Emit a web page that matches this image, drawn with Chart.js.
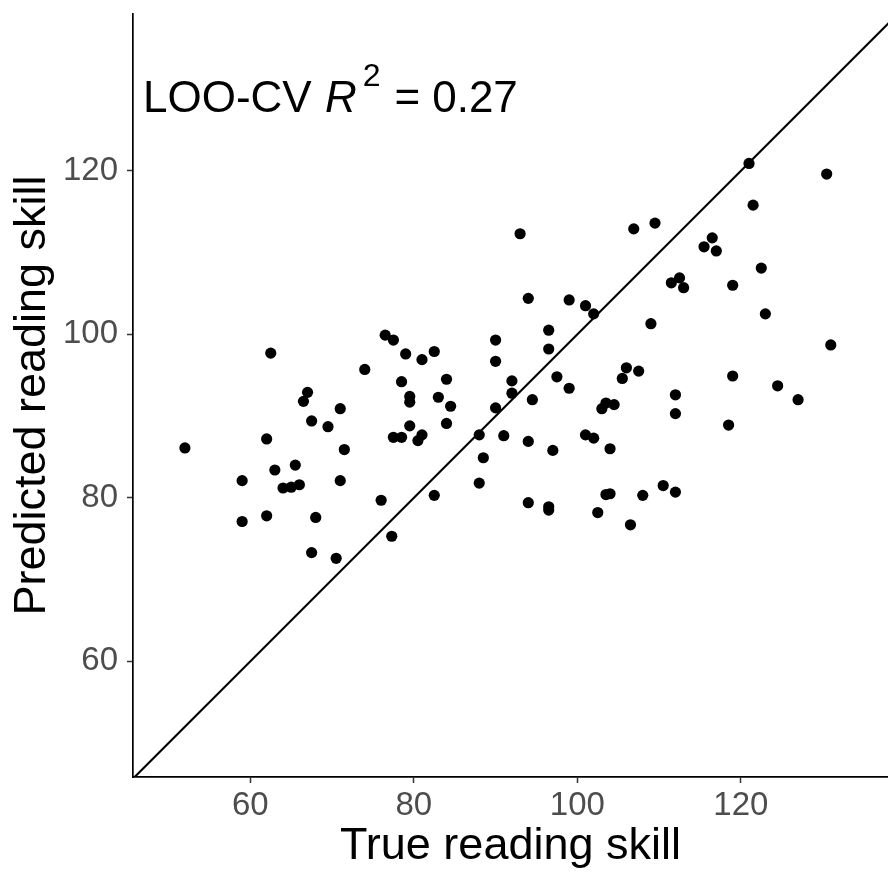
<!DOCTYPE html>
<html>
<head>
<meta charset="utf-8">
<title>Predicted vs true reading skill</title>
<script src="https://cdn.jsdelivr.net/npm/chart.js@4.4.1/dist/chart.umd.min.js"></script>
<style>
  html, body { margin: 0; padding: 0; background: #fff; }
  #wrap { width: 888px; height: 875px; }
</style>
</head>
<body>
<div id="wrap"><canvas id="skillChart" width="888" height="875"></canvas></div>
<script>
// true score and leave-one-out prediction, one entry per subject
const trueSkill = [
  62.5, 76.5, 74.0, 67.0, 66.5, 71.0, 67.5, 69.5, 62.0, 52.0,
  71.5, 65.5, 63.0, 59.0, 71.0, 64.0, 65.0, 66.0, 76.0, 59.0,
  62.0, 68.0, 77.3, 67.5, 70.5, 93.0, 94.0, 99.0, 101.0, 102.0,
  106.9, 77.5, 79.0, 81.0, 82.5, 90.0, 96.5, 96.5, 90.0, 78.5,
  84.0, 92.0, 97.5, 99.0, 106.0, 105.5, 107.5, 79.5, 79.5, 83.0,
  84.5, 92.0, 90.0, 94.5, 103.5, 103.0, 104.5, 79.5, 84.0, 77.5,
  78.5, 80.5, 81.0, 88.0, 91.0, 94.0, 97.0, 101.0, 102.0, 104.0,
  88.5, 88.0, 82.5, 94.0, 96.5, 96.5, 103.5, 104.0, 102.5, 106.5,
  121.0, 130.5, 121.5, 109.5, 116.5, 115.5, 117.0, 122.5, 111.5, 112.5,
  113.0, 119.0, 123.0, 109.0, 131.0, 119.0, 124.5, 112.0, 127.0, 112.0,
  118.5, 108.0, 110.5, 112.0
];
const predictedSkill = [
  97.7, 99.9, 95.7, 92.9, 91.8, 90.9, 89.4, 88.7, 87.2, 86.1,
  85.9, 84.0, 83.4, 82.1, 82.1, 81.2, 81.3, 81.6, 79.7, 77.1,
  77.8, 77.6, 75.3, 73.3, 72.6, 112.3, 104.4, 104.2, 103.5, 102.5,
  112.9, 99.3, 97.6, 96.9, 97.9, 99.3, 100.5, 98.2, 96.7, 94.2,
  94.5, 94.3, 94.8, 93.4, 95.9, 94.6, 95.5, 92.4, 91.7, 92.3,
  91.2, 92.8, 91.0, 92.0, 91.6, 90.9, 91.4, 88.8, 89.1, 87.4,
  87.4, 87.0, 87.7, 87.7, 87.6, 86.9, 85.8, 87.7, 87.3, 86.0,
  84.9, 81.8, 80.3, 79.4, 78.9, 78.5, 80.4, 80.5, 78.2, 76.7,
  120.9, 119.6, 115.8, 113.6, 111.8, 110.7, 110.2, 108.1, 106.3, 106.9,
  105.7, 106.0, 102.5, 101.3, 98.7, 94.9, 93.7, 92.6, 92.0, 90.3,
  88.9, 80.3, 81.5, 80.7
];
const xTicks = [60, 80, 100, 120];
const yTicks = [60, 80, 100, 120];
const xLimits = [45.65, 138.0];
const yLimits = [45.85, 139.18];
const cvR2 = '0.27';

// identity line y = x, long enough to cross the whole panel (clipped)
const identityEnds = [40, 150];

const FONT = '"Liberation Sans", Arial, Helvetica, sans-serif';

const points = trueSkill.map((v, i) => ({ x: v, y: predictedSkill[i] }));
const identity = identityEnds.map(v => ({ x: v, y: v }));

// "LOO-CV R^2 = 0.27" in the top-left corner of the panel
const r2Note = {
  id: 'r2Note',
  afterDatasetsDraw(chart) {
    const ctx = chart.ctx;
    const area = chart.chartArea;
    const base = area.top + 98;
    let x = area.left + 10;
    ctx.save();
    ctx.fillStyle = '#000';
    ctx.textBaseline = 'alphabetic';
    ctx.textAlign = 'left';

    ctx.font = '44px ' + FONT;
    ctx.fillText('LOO-CV', x, base);
    x += ctx.measureText('LOO-CV ').width + 1;

    ctx.font = 'italic 44px ' + FONT;
    ctx.fillText('R', x, base);
    x += ctx.measureText('R').width + 6;

    ctx.font = '32px ' + FONT;
    ctx.fillText('2', x, base - 26);
    x += ctx.measureText('2').width + 14;

    ctx.font = '44px ' + FONT;
    ctx.fillText('=', x, base);
    x += ctx.measureText('=').width + 12;
    ctx.fillText(cvR2, x, base);
    ctx.restore();
  }
};

function fixedTicks(values) {
  return scale => { scale.ticks = values.map(v => ({ value: v })); };
}

const ctx = document.getElementById('skillChart').getContext('2d');
new Chart(ctx, {
  type: 'scatter',
  data: {
    datasets: [
      {
        label: 'subjects',
        data: points,
        pointRadius: 5.6,
        pointBackgroundColor: '#000',
        pointBorderWidth: 0,
        showLine: false
      },
      {
        type: 'line',
        label: 'y = x',
        data: identity,
        borderColor: '#000',
        borderWidth: 2.1,
        pointRadius: 0,
        fill: false
      }
    ]
  },
  options: {
    responsive: false,
    animation: false,
    devicePixelRatio: 1,
    events: [],
    layout: {
      autoPadding: false,
      padding: { top: 14, right: 0, bottom: 0, left: 0 }
    },
    plugins: {
      legend: { display: false },
      tooltip: { enabled: false }
    },
    scales: {
      x: {
        type: 'linear',
        min: xLimits[0],
        max: xLimits[1],
        afterBuildTicks: fixedTicks(xTicks),
        afterFit: scale => {
          scale.height = 98;
          scale.paddingLeft = 0;
          scale.paddingRight = 0;
        },
        border: { display: true, color: '#000', width: 1.7 },
        grid: {
          drawOnChartArea: false,
          drawTicks: true,
          tickLength: 6,
          tickColor: '#333',
          tickWidth: 1.5
        },
        ticks: {
          color: '#4d4d4d',
          padding: 3,
          font: { family: FONT, size: 33 }
        },
        title: {
          display: true,
          text: 'True reading skill',
          color: '#000',
          padding: { top: 0, bottom: 1 },
          font: { family: FONT, size: 45 }
        }
      },
      y: {
        type: 'linear',
        min: yLimits[0],
        max: yLimits[1],
        afterBuildTicks: fixedTicks(yTicks),
        afterFit: scale => {
          scale.width = 133;
          scale.paddingTop = 0;
          scale.paddingBottom = 0;
        },
        border: { display: true, color: '#000', width: 1.7 },
        grid: {
          drawOnChartArea: false,
          drawTicks: true,
          tickLength: 6,
          tickColor: '#333',
          tickWidth: 1.5
        },
        ticks: {
          color: '#4d4d4d',
          padding: 9,
          font: { family: FONT, size: 33 }
        },
        title: {
          display: true,
          text: 'Predicted reading skill',
          color: '#000',
          padding: { top: 6, bottom: 0 },
          font: { family: FONT, size: 45 }
        }
      }
    }
  },
  plugins: [r2Note]
});
</script>
</body>
</html>
